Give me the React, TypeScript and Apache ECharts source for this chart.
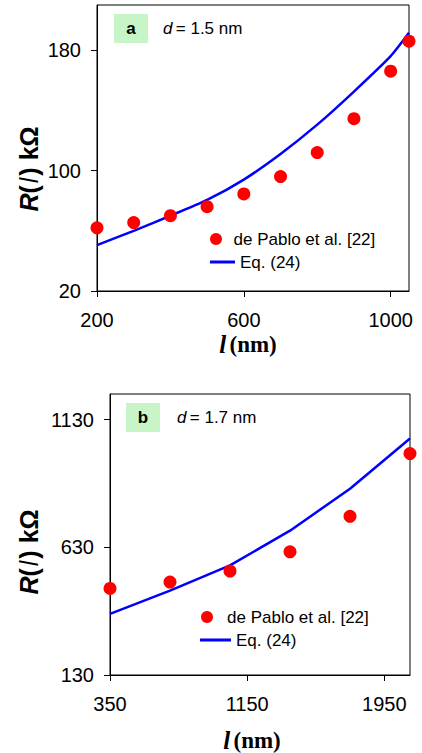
import React, { useEffect, useRef } from "react";
import * as echarts from "echarts";

// Panel a (d = 1.5 nm)
const lengthsA = [200, 300, 400, 500, 600, 700, 800, 900, 1000, 1050];
const measuredA = [62, 65.5, 70, 76, 84.5, 96, 112, 134.5, 166, 186];
const equationA = [50.5, 60, 70, 80.5, 94, 111, 130.5, 152.5, 176, 191.5];
const xTicksA = [200, 600, 1000];
const yTicksA = [20, 100, 180];

// Panel b (d = 1.7 nm)
const lengthsB = [350, 700, 1050, 1400, 1750, 2100];
const measuredB = [469, 494, 537, 612, 751, 997];
const equationB = [369, 460, 559, 695, 859, 1056];
const xTicksB = [350, 1150, 1950];
const yTicksB = [130, 630, 1130];

const seriesNames = ["de Pablo et al. [22]", "Eq. (24)"];

const SANS = "Liberation Sans, Arial, sans-serif";
const SERIF = "Liberation Serif, Times New Roman, serif";

const pair = (xs: number[], ys: number[]) => xs.map((x, i) => [x, ys[i]]);
const plain = (v: number) => String(v);

function axisX(gridIndex: number, min: number, max: number, ticks: number[]) {
  return {
    type: "value",
    gridIndex,
    min,
    max,
    axisLine: { show: true, lineStyle: { color: "#000", width: 1 } },
    axisTick: { show: true, length: 6, customValues: ticks, lineStyle: { color: "#000" } },
    axisLabel: {
      customValues: ticks,
      formatter: plain,
      margin: 21,
      lineHeight: 16,
      color: "#000",
      fontFamily: SANS,
      fontSize: 20,
    },
    splitLine: { show: false },
  };
}

function axisY(gridIndex: number, min: number, max: number, ticks: number[]) {
  return {
    type: "value",
    gridIndex,
    min,
    max,
    axisLine: { show: true, lineStyle: { color: "#000", width: 1 } },
    axisTick: { show: true, length: 6, customValues: ticks, lineStyle: { color: "#000" } },
    axisLabel: {
      customValues: ticks,
      formatter: plain,
      margin: 16,
      color: "#000",
      fontFamily: SANS,
      fontSize: 20,
    },
    splitLine: { show: false },
  };
}

function yTitle(x: number, y: number) {
  return {
    type: "text",
    x,
    y,
    rotation: Math.PI / 2,
    style: {
      text: "{r|R}{n|(}{i|l}{n|) kΩ}",
      align: "center",
      verticalAlign: "middle",
      fill: "#000",
      rich: {
        r: { fontFamily: SANS, fontSize: 25, fontWeight: "bold", fontStyle: "italic", fill: "#000" },
        n: { fontFamily: SANS, fontSize: 25, fontWeight: "bold", fill: "#000" },
        i: { fontFamily: SANS, fontSize: 25, fontStyle: "italic", fill: "#000", padding: [0, 2, 0, 2] },
      },
    },
  };
}

function xTitle(x: number, y: number) {
  return {
    type: "text",
    x,
    y,
    style: {
      text: "{i|l} {n|(nm)}",
      align: "center",
      verticalAlign: "middle",
      fill: "#000",
      rich: {
        i: { fontFamily: SERIF, fontSize: 25, fontWeight: "bold", fontStyle: "italic", fill: "#000", lineHeight: 18 },
        n: { fontFamily: SERIF, fontSize: 23, fontWeight: "bold", fill: "#000", lineHeight: 18 },
      },
    },
  };
}

function panelTag(letter: string, value: string, bx: number, by: number, bw: number, bh: number, tx: number) {
  return [
    {
      type: "rect",
      shape: { x: bx, y: by, width: bw, height: bh },
      style: { fill: "#c8f5c8" },
    },
    {
      type: "text",
      x: bx + bw / 2,
      y: by + bh / 2,
      style: {
        text: letter,
        align: "center",
        verticalAlign: "middle",
        fontFamily: SANS,
        fontSize: 17,
        fontWeight: "bold",
        fill: "#000",
      },
    },
    {
      type: "text",
      x: tx,
      y: by + bh / 2,
      style: {
        text: "{i|d} {n|= " + value + " nm}",
        verticalAlign: "middle",
        fill: "#000",
        rich: {
          i: { fontFamily: SANS, fontSize: 17, fontStyle: "italic", fill: "#000" },
          n: { fontFamily: SANS, fontSize: 17, fill: "#000" },
        },
      },
    },
  ];
}

function legend(name: string, left: number, top: number, isLine: boolean, width: number) {
  return {
    data: [isLine ? { name, icon: "rect" } : { name, icon: "circle" }],
    left,
    top,
    orient: "vertical",
    itemWidth: width,
    itemHeight: isLine ? 3 : 12,
    itemGap: 0,
    padding: 0,
    selectedMode: false,
    textStyle: { fontFamily: SANS, fontSize: 17, color: "#000", lineHeight: 18 },
  };
}

export default function App() {
  const ref = useRef<HTMLDivElement>(null);

  useEffect(() => {
    if (!ref.current) return;
    const chart = echarts.init(ref.current, null, { renderer: "svg" });
    const option: any = {
      animation: false,
      backgroundColor: "#fff",
      grid: [
        { left: 97, top: 5, width: 312, height: 286, show: true, borderColor: "#000", borderWidth: 1, containLabel: false },
        { left: 110, top: 394, width: 300, height: 281, show: true, borderColor: "#000", borderWidth: 1, containLabel: false },
      ],
      xAxis: [axisX(0, 200, 1050, xTicksA), axisX(1, 350, 2100, xTicksB)],
      yAxis: [axisY(0, 20, 210, yTicksA), axisY(1, 130, 1230, yTicksB)],
      legend: [
        legend(seriesNames[0], 210, 230, false, 25),
        legend(seriesNames[1], 210, 253, true, 25),
        legend(seriesNames[0], 201, 608, false, 30),
        legend(seriesNames[1], 200, 631, true, 31),
      ],
      series: [
        {
          name: seriesNames[1],
          type: "line",
          xAxisIndex: 0,
          yAxisIndex: 0,
          data: pair(lengthsA, equationA),
          symbol: "none",
          smooth: 0.2,
          lineStyle: { color: "#0000ff", width: 2.5 },
          itemStyle: { color: "#0000ff" },
          z: 2,
        },
        {
          name: seriesNames[0],
          type: "scatter",
          xAxisIndex: 0,
          yAxisIndex: 0,
          data: pair(lengthsA, measuredA),
          symbol: "circle",
          symbolSize: 13,
          itemStyle: { color: "#ff0000", opacity: 1 },
          z: 3,
        },
        {
          name: seriesNames[1],
          type: "line",
          xAxisIndex: 1,
          yAxisIndex: 1,
          data: pair(lengthsB, equationB),
          symbol: "none",
          lineStyle: { color: "#0000ff", width: 2.5 },
          itemStyle: { color: "#0000ff" },
          z: 2,
        },
        {
          name: seriesNames[0],
          type: "scatter",
          xAxisIndex: 1,
          yAxisIndex: 1,
          data: pair(lengthsB, measuredB),
          symbol: "circle",
          symbolSize: 13,
          itemStyle: { color: "#ff0000", opacity: 1 },
          z: 3,
        },
      ],
      graphic: [
        ...panelTag("a", "1.5", 114, 14, 34, 29, 163),
        ...panelTag("b", "1.7", 126, 403, 34, 29, 177),
        yTitle(29, 169),
        xTitle(248, 344),
        yTitle(29, 552),
        xTitle(252, 740),
      ],
    };
    chart.setOption(option);
    return () => chart.dispose();
  }, []);

  return (
    <div
      ref={ref}
      style={{ position: "absolute", left: 0, top: 0, width: 422, height: 753, background: "#fff" }}
    />
  );
}
